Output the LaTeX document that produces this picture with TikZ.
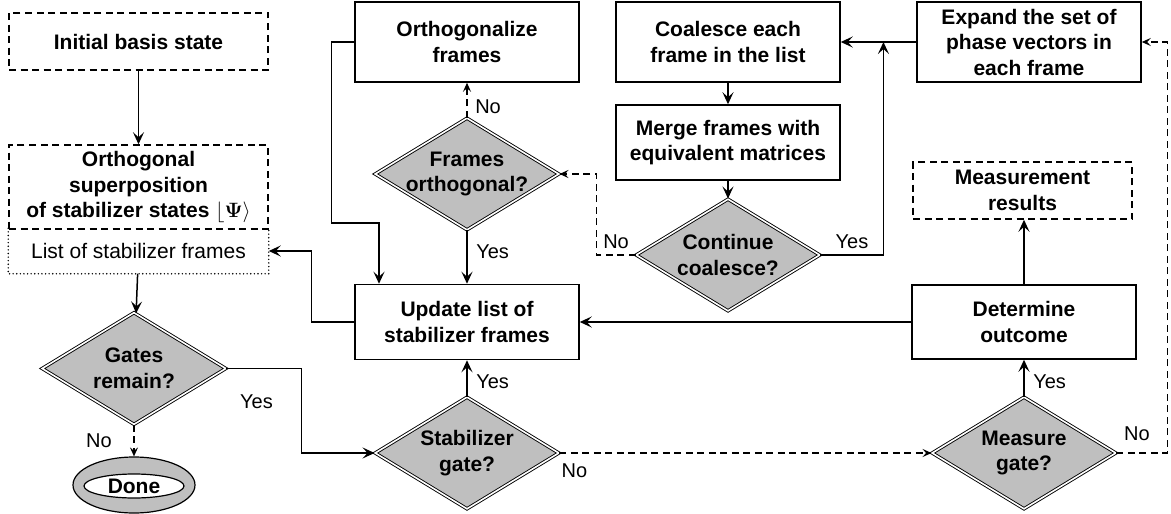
\documentclass[tikz,border=0pt]{standalone}
\usepackage{amsmath}
\usepackage[no-math]{fontspec}
\setmainfont{Liberation Sans}
\usetikzlibrary{arrows.meta,positioning,shapes.geometric}

\newcommand{\boxfont}{\fontsize{21}{25.5}\selectfont\bfseries}
\newcommand{\listfont}{\fontsize{21}{25.5}\selectfont}
\newcommand{\lblfont}{\fontsize{20}{24}\selectfont}

\tikzset{
  box/.style={draw,line width=1.5pt,inner sep=0pt,minimum width=224pt,align=center,font=\boxfont},
  dbox/.style={box,dash pattern=on 7pt off 4.5pt},
  test/.style={diamond,draw,double,double distance=1.6pt,line width=0.9pt,fill=black!25,aspect=1.64,
    inner xsep=0pt,inner ysep=-6pt,minimum width=184pt,minimum height=112pt,align=center,font=\boxfont},
  flow/.style={line width=1.5pt,-{Stealth[length=12pt,width=11pt,inset=5pt]}},
  dflow/.style={line width=1.5pt,dash pattern=on 7pt off 4.5pt,-{Stealth[length=9pt,width=8pt,inset=3.5pt]}},
  lbl/.style={font=\lblfont,inner sep=1.5pt},
}

\begin{document}
\begin{tikzpicture}[x=1pt,y=-1pt,line join=miter]
\path[use as bounding box] (0,0) rectangle (1171,514);
% left column
\node[dbox,minimum width=259pt,minimum height=57pt] (init) at (138.5,41.5) {Initial basis state};
\node[box,draw=none,minimum width=259pt,minimum height=44pt,font=\listfont] (flist) at (138.5,251) {List of stabilizer frames};
\draw[line width=1.6pt,line cap=round,dash pattern=on 0pt off 3.6pt] (flist.north west) |- (flist.south east) -- (flist.north east);
\node[dbox,minimum width=259pt,minimum height=84pt] (super) at (138.5,187) {Orthogonal\\superposition\\of stabilizer states $\lfloor\mathbf{\Psi}\rangle$};
\node[test] (gates) at (134,368.5) {Gates\\remain?};
\node[draw,ellipse,line width=1.2pt,fill=black!25,minimum width=122pt,minimum height=56pt] (done) at (134,485) {};
\node[draw,ellipse,line width=1.2pt,fill=white,inner xsep=0pt,inner ysep=-4pt,minimum width=100pt,minimum height=24pt,font=\boxfont] (donein) at (134,486) {Done};
% middle columns
\node[box,minimum height=80pt] (orth) at (467,42) {Orthogonalize\\frames};
\node[test] (fortho) at (467,174) {Frames\\orthogonal?};
\node[box,minimum height=75pt] (update) at (467,322) {Update list of\\stabilizer frames};
\node[test] (stab) at (467,453) {Stabilizer\\gate?};
\node[box,minimum height=80pt] (coal) at (728,42) {Coalesce each\\frame in the list};
\node[box,minimum height=75pt] (merge) at (728,142.5) {Merge frames with\\equivalent matrices};
\node[test] (cont) at (728,255) {Continue\\coalesce?};
% right column
\node[box,minimum height=80pt] (expand) at (1029,42) {Expand the set of\\phase vectors in\\each frame};
\node[dbox,minimum width=219pt,minimum height=57pt] (meas) at (1022.5,190.5) {Measurement\\results};
\node[box,minimum height=74pt] (determ) at (1024,322) {Determine\\outcome};
\node[test] (mgate) at (1024,453) {Measure\\gate?};
% connectors
\draw[flow] (init) -- (super);
\draw[flow] (flist) -- (gates);
\draw[dflow] (gates) -- node[lbl,left=20pt] {No} (done);
\draw[flow] (gates.east) -- node[lbl,below=24pt,pos=0.4] {Yes} ++(75,0) |- (stab.west);
\draw[flow] (stab) -- node[lbl,right=7pt,pos=0.4] {Yes} (update);
\draw[dflow] (stab.east) -- node[lbl,at start,below right=8pt and 0pt] {No} (mgate.west);
\draw[flow] (mgate) -- node[lbl,right=7pt,pos=0.4] {Yes} (determ);
\draw[dflow] (mgate.east) -- node[lbl,above=10pt,pos=0.4] {No} ++(51,0) |- (expand.east);
\draw[flow] (determ.north) -- (determ.north |- meas.south);
\draw[flow] (determ) -- (update);
\draw[flow] (update.west) -- ++(-43,0) |- (flist.east);
\draw[flow] (orth.west) -- ++(-23,0) -- ++(0,181) -| ([xshift=-88pt]update.north);
\draw[dflow] (fortho) -- node[lbl,right=6pt,pos=0.3] {No} (orth);
\draw[flow] (fortho) -- node[lbl,right=7pt,pos=0.4] {Yes} (update);
\draw[flow] (coal) -- (merge);
\draw[flow] (merge) -- (cont);
\draw[dflow] (cont.west) -- node[lbl,above=4pt] {No} ++(-39,0) |- (fortho.east);
\draw[flow] (cont.east) -- node[lbl,above=4pt] {Yes} ++(63,0) coordinate (yesup) -- (yesup |- coal.east);
\draw[flow] (expand) -- (coal);
\end{tikzpicture}
\end{document}
